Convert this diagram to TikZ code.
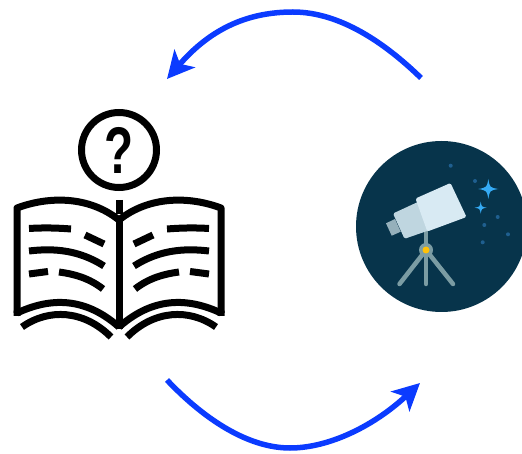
\documentclass[tikz,border=0pt]{standalone}
\usepackage{fontspec}
\setmainfont{Liberation Sans}
\usepackage{tikz}
\usetikzlibrary{arrows.meta}
\usepackage{xcolor}
\definecolor{flowblue}{HTML}{0B3BFF}
\definecolor{nightsky}{HTML}{07344B}
\definecolor{tubelight}{HTML}{D8EAF3}
\definecolor{tubemid}{HTML}{BFD6E0}
\definecolor{tubedark}{HTML}{95B0BB}
\definecolor{tripod}{HTML}{7B9CA3}
\definecolor{starblue}{HTML}{35ABF5}
\definecolor{dotblue}{HTML}{1F5F8F}
\definecolor{lenscore}{HTML}{FFC107}

\begin{document}
\begin{tikzpicture}[
  x=1pt, y=-1pt,
  arrow/.style={-{Stealth[length=27pt, width=27pt, inset=7pt]}, line width=5.5pt, flowblue},
  bookline/.style={line width=7pt, black},
  tube/.style={rounded corners=1.5pt},
  leg/.style={line width=4.5pt, line cap=round, tripod},
  skydot/.style={dotblue}
]
\clip (0,0) rectangle (522,454);

% Arrow ends
\coordinate (topstart) at (421,78);
\coordinate (toppeak)  at (293,12);
\coordinate (topend)   at (167,79);
\coordinate (botstart) at (167,380);
\coordinate (botpeak)  at (290,448);
\coordinate (botend)   at (420,383);

% Book pages, drawn once per side
\foreach \m in {1,-1} {
  \begin{scope}[shift={(119,0)}, xscale=\m]
    \draw[bookline, line join=round] (-102,313) -- (-102,208)
      .. controls (-70,196) and (-30,196) .. (0,220);
    \draw[bookline] (-102,316) -- (-102,313) .. controls (-70,298) and (-35,296) .. (0,327);
    \draw[bookline] (-90,228.5) .. controls (-75,227.5) and (-60,228) .. (-48,229);
    \draw[bookline] (-34,235) -- (-15,244);
    \draw[bookline] (-90,251) .. controls (-65,248) and (-40,250) .. (-15,266);
    \draw[bookline] (-90,274) -- (-71,271.5);
    \draw[bookline] (-60,272) .. controls (-45,274) and (-30,278) .. (-16,289);
    \draw[bookline] (-97,327) .. controls (-70,308) and (-35,310) .. (-8,337);
  \end{scope}
}
\draw[bookline] (119,220) -- (119,329);
\draw[bookline] (119,200) -- (119,214);

% Question bubble
\node[circle, draw=black, line width=7pt, minimum size=75pt, inner sep=0pt] (bubble) at (119,150) {};
\node[xscale=0.72, font=\bfseries\fontsize{66}{66}\selectfont] (mark) at (bubble.center) {?};

% Telescope badge
\node[circle, fill=nightsky, minimum size=171pt, inner sep=0pt] (badge) at (441.5,226.5) {};

\foreach \px/\py in {450.7/165.7, 475/181, 497.7/217, 484.3/225, 508/234.3, 482.7/242.3} {
  \fill[skydot] (\px,\py) circle (2pt);
}
\foreach \px/\py/\r in {488.3/189/10, 480.7/207.7/6} {
  \fill[starblue] (\px-\r,\py) .. controls (\px-0.15*\r,\py-0.15*\r) .. (\px,\py-\r)
    .. controls (\px+0.15*\r,\py-0.15*\r) .. (\px+\r,\py)
    .. controls (\px+0.15*\r,\py+0.15*\r) .. (\px,\py+\r)
    .. controls (\px-0.15*\r,\py+0.15*\r) .. cycle;
}

\draw[leg, line cap=butt] (426,230) -- (426,250);
\draw[leg] (426,250) -- (426,284);
\draw[leg] (426,250) -- (399.5,284);
\draw[leg] (426,250) -- (453,284);
\fill[tubedark] (386,223.3) -- (395,219) -- (400.7,231.7) -- (391.7,235.7) -- cycle;
\fill[tubemid, tube] (393,213.5) -- (420,201) -- (430,230) -- (404.5,238.8) -- cycle;
\fill[tubelight, tube] (415.5,198.5) -- (450.5,183) -- (466.5,217) -- (427.3,231.5) -- cycle;
\fill[tripod] (426,250) circle (7pt);
\fill[lenscore] (426,250) circle (3.5pt);

% Cycle arrows
\draw[arrow] (topstart) .. controls (385,43) and (340,12) .. (toppeak)
  .. controls (250,12) and (212,27) .. (topend);
\draw[arrow] (botstart) .. controls (200,415) and (245,448) .. (botpeak)
  .. controls (330,448) and (375,425) .. (botend);
\end{tikzpicture}
\end{document}
